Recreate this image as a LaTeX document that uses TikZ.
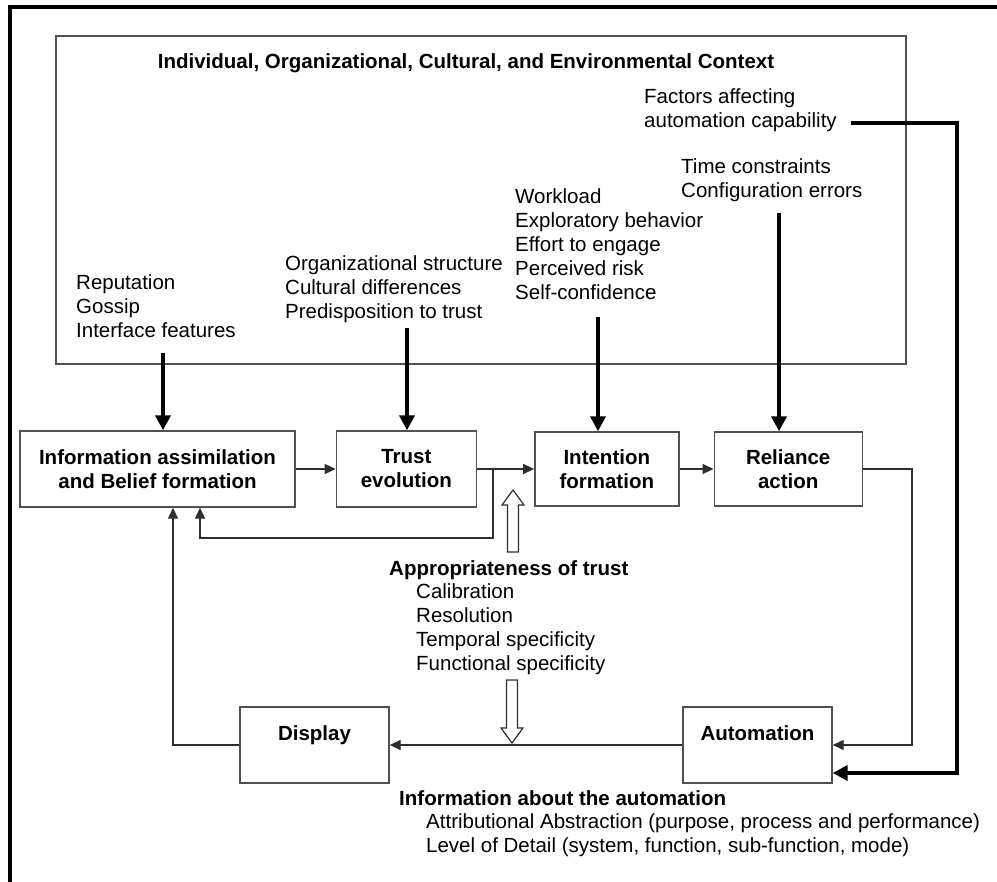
\documentclass[tikz,border=0pt]{standalone}
\usepackage{fontspec}
\setmainfont{Liberation Sans}
\usepackage{tikz}
\usetikzlibrary{positioning,arrows.meta}
\definecolor{inkgray}{HTML}{2E2E2E}
\definecolor{framegray}{HTML}{505050}

\begin{document}
\begin{tikzpicture}[x=1pt, y=-1pt,
  every node/.style={font=\fontsize{20.5}{24}\selectfont, inner sep=0pt},
  stagebox/.style={draw=framegray, line width=1.4pt, fill=white, align=center, font=\fontsize{20.5}{24}\selectfont\bfseries, minimum height=76pt},
  boldnote/.style={anchor=west, font=\fontsize{20.5}{24}\selectfont\bfseries},
  factorlist/.style={align=left, anchor=west},
  heavy/.style={line width=4pt, -{Triangle[length=15pt, width=15pt]}},
  light/.style={draw=inkgray, line width=1.4pt, -{Triangle[length=11pt, width=10pt]}},
  hollow/.style={draw=inkgray, line width=1.2pt, fill=white}]
  \useasboundingbox (0,0) rectangle (997,882);
  \draw[line width=3.5pt] (997,7) -- (10,7) -- (10,882);

  % context frame and its factors
  \node[draw=framegray, line width=1.2pt, minimum width=850pt, minimum height=328pt] (context) at (481,200) {};
  \node[font=\fontsize{20.5}{24}\selectfont\bfseries] (ctxtitle) at (466,63) {Individual, Organizational, Cultural, and Environmental Context};
  \node[factorlist] (capability) at (644,110) {Factors affecting\\automation capability};
  \node[factorlist] (timefactors) at (681,180) {Time constraints\\Configuration errors};
  \node[factorlist] (workload) at (515,244) {Workload\\Exploratory behavior\\Effort to engage\\Perceived risk\\Self-confidence};
  \node[factorlist] (orgfactors) at (285,289) {Organizational structure\\Cultural differences\\Predisposition to trust};
  \node[factorlist] (reputation) at (76,306) {Reputation\\Gossip\\Interface features};

  % process chain
  \node[stagebox, minimum width=275pt] (info) at (157.5,469) {Information assimilation\\and Belief formation};
  \node[stagebox, minimum width=140pt, right=40pt of info] (trust) {Trust\\evolution};
  \node[stagebox, minimum width=144pt, minimum height=74pt, right=57pt of trust] (intent) {Intention\\formation};
  \node[stagebox, minimum width=148pt, minimum height=74pt, right=34pt of intent] (reliance) {Reliance\\action};
  \node[stagebox, minimum width=149pt] (display) at (314.5,745) {Display\\~};
  \node[stagebox, minimum width=149pt] (automation) at (757.5,745) {Automation\\~};

  \node[boldnote] (apprhead) at (389,570) {Appropriateness of trust};
  \node[factorlist] (apprlist) at (416,629) {Calibration\\Resolution\\Temporal specificity\\Functional specificity};
  \node[boldnote] (autoinfohead) at (399,798) {Information about the automation};
  \node[factorlist] (autoinfolist) at (426,835) {Attributional Abstraction (purpose, process and performance)\\Level of Detail (system, function, sub-function, mode)};

  \coordinate (repdrop) at (163,353);
  \coordinate (orgdrop) at (407,328);
  \coordinate (workdrop) at (598,317);
  \coordinate (timedrop) at (779,213);
  \coordinate (capstart) at (851,123);
  \coordinate (capcorner) at (957,123);
  \coordinate (fbsplit) at (493,469);
  \coordinate (uptip) at (513,490);
  \coordinate (downtip) at (512,743);

  \draw[heavy] (repdrop) -- (repdrop |- info.north);
  \draw[heavy] (orgdrop) -- (orgdrop |- trust.north);
  \draw[heavy] (workdrop) -- (workdrop |- intent.north);
  \draw[heavy] (timedrop) -- (timedrop |- reliance.north);
  \draw[heavy] (capstart) -- (capcorner) |- ([yshift=-28pt]automation.east);

  \draw[light] (info.east) -- (trust.west);
  \draw[light] (trust.east) -- (intent.west);
  \draw[light] (intent.east) -- (reliance.west);
  \draw[light] (fbsplit) -- ++(0,69) -| ([xshift=42.5pt]info.south);
  \draw[light] (reliance.east) -- ++(49,0) |- (automation.east);
  \draw[light] (automation.west) -- (display.east);
  \draw[light] (display.west) -| ([xshift=15.5pt]info.south);

  % open block arrows for appropriateness of trust
  \draw[hollow] (uptip) -- ++(11,15) -- ++(-5.5,0) -- ++(0,47) -- ++(-11,0) -- ++(0,-47) -- ++(-5.5,0) -- cycle;
  \draw[hollow] (downtip) -- ++(11,-15) -- ++(-5.5,0) -- ++(0,-48) -- ++(-11,0) -- ++(0,48) -- ++(-5.5,0) -- cycle;
\end{tikzpicture}
\end{document}
